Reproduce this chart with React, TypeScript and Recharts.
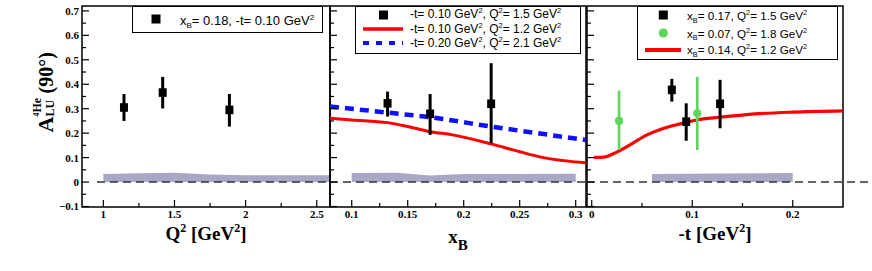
import React from 'react';
import {
  ComposedChart, Scatter, Line, Area, XAxis, YAxis, ReferenceLine, ReferenceArea,
  ErrorBar, Legend, Label,
} from 'recharts';

const W = 872;
const H = 271;

// ---------- shared y axis ----------
const yTicks = [-0.1, -0.05, 0, 0.05, 0.1, 0.15, 0.2, 0.25, 0.3, 0.35, 0.4, 0.45, 0.5, 0.55, 0.6, 0.65, 0.7];
const yMajorTicks = [-0.1, 0, 0.1, 0.2, 0.3, 0.4, 0.5, 0.6, 0.7];
const yTickLabels = ['\u22120.1', '0', '0.1', '0.2', '0.3', '0.4', '0.5', '0.6', '0.7'];
const yDomain: [number, number] = [-0.102, 0.72];

// ---------- panel 1 : Q^2 ----------
const q2Ticks = [1, 1.25, 1.5, 1.75, 2, 2.25, 2.5];
const q2MajorTicks = [1, 1.5, 2, 2.5];
const q2TickLabels = ['1', '1.5', '2', '2.5'];
const q2Domain: [number, number] = [0.85, 2.593];
const q2Values = [1.145, 1.417, 1.886];
const q2Asym = [0.305, 0.366, 0.295];
const q2ErrLow = [0.055, 0.065, 0.068];
const q2ErrHigh = [0.055, 0.064, 0.065];
const q2BandX = [1.0, 1.25, 1.5, 1.75, 2.0, 2.593];
const q2BandTop = [0.033, 0.036, 0.038, 0.031, 0.028, 0.028];
const q2ZeroFrom = 0.955;

// ---------- panel 2 : xB ----------
const xbTicks = [0.1, 0.125, 0.15, 0.175, 0.2, 0.225, 0.25, 0.275, 0.3];
const xbMajorTicks = [0.1, 0.15, 0.2, 0.25, 0.3];
const xbTickLabels = ['0.1', '0.15', '0.2', '0.25', '0.3'];
const xbDomain: [number, number] = [0.0806, 0.3092];
const xbValues = [0.132, 0.17, 0.2245];
const xbAsym = [0.322, 0.279, 0.32];
const xbErrLow = [0.054, 0.086, 0.161];
const xbErrHigh = [0.048, 0.081, 0.166];
const xbRedX = [0.0806, 0.1, 0.132, 0.15, 0.17, 0.19, 0.2245, 0.25, 0.27, 0.3092];
const xbRedY = [0.261, 0.254, 0.243, 0.227, 0.206, 0.193, 0.156, 0.124, 0.101, 0.079];
const xbBlueX = [0.0806, 0.132, 0.17, 0.2245, 0.3092];
const xbBlueY = [0.309, 0.284, 0.265, 0.227, 0.172];
const xbBandX = [0.1, 0.14, 0.17, 0.2, 0.3];
const xbBandTop = [0.037, 0.038, 0.027, 0.033, 0.034];

// ---------- panel 3 : -t ----------
const tTicks = [0, 0.05, 0.1, 0.15, 0.2];
const tMajorTicks = [0, 0.1, 0.2];
const tTickLabels = ['0', '0.1', '0.2'];
const tDomain: [number, number] = [-0.0047, 0.25];
const tBlackValues = [0.0797, 0.094, 0.1277];
const tBlackAsym = [0.377, 0.247, 0.32];
const tBlackErrLow = [0.048, 0.078, 0.1];
const tBlackErrHigh = [0.045, 0.075, 0.098];
const tGreenValues = [0.0272, 0.105];
const tGreenAsym = [0.25, 0.281];
const tGreenErrLow = [0.119, 0.15];
const tGreenErrHigh = [0.124, 0.149];
const tRedX = [0.0023, 0.012, 0.021, 0.038, 0.055, 0.071, 0.088, 0.1045, 0.1277, 0.154, 0.2, 0.25];
const tRedY = [0.101, 0.102, 0.115, 0.152, 0.193, 0.219, 0.238, 0.254, 0.265, 0.276, 0.286, 0.291];
const tBandX = [0.06, 0.13, 0.2];
const tBandTop = [0.033, 0.035, 0.037];
const tZeroTo = 0.277;

// ---------- build series ----------
const points = (xs: number[], ys: number[], lo: number[], hi: number[]) =>
  xs.map((x, i) => ({ x, y: ys[i], err: [lo[i], hi[i]] }));
const curve = (xs: number[], ys: number[]) => xs.map((x, i) => ({ x, y: ys[i] }));
const band = (xs: number[], tops: number[]) => xs.map((x, i) => ({ x, band: tops[i] }));

const q2Points = points(q2Values, q2Asym, q2ErrLow, q2ErrHigh);
const q2Band = band(q2BandX, q2BandTop);
const xbPoints = points(xbValues, xbAsym, xbErrLow, xbErrHigh);
const xbRed = curve(xbRedX, xbRedY);
const xbBlue = curve(xbBlueX, xbBlueY);
const xbBand = band(xbBandX, xbBandTop);
const tBlack = points(tBlackValues, tBlackAsym, tBlackErrLow, tBlackErrHigh);
const tGreen = points(tGreenValues, tGreenAsym, tGreenErrLow, tGreenErrHigh);
const tRed = curve(tRedX, tRedY);
const tBand = band(tBandX, tBandTop);

// ---------- styles ----------
const SERIF = 'Liberation Serif';
const sansFont = '"Liberation Sans", Arial, Helvetica, sans-serif';
const RED = '#ff0000';
const BLUE = '#1010ff';
const GREEN = '#5cd65c';
const BAND = '#a9a7c6';
const YW = 40;
const XH = 30;
const TM = 3;
const PLOT_TOP = 6;
const PLOT_BOTTOM = 207;

const findMajor = (majors: number[], v: number) => majors.findIndex((m) => Math.abs(m - v) < 1e-9);

const SerifText = ({ size, children, ...rest }: any) => (
  <text fontFamily={SERIF} fontWeight="bold" fontSize={size} fill="#000" stroke="none" {...rest}>
    {children}
  </text>
);

const makeYTick = (show: boolean) => (p: any) => {
  const { x, y, payload } = p;
  const idx = findMajor(yMajorTicks, payload.value);
  const ax = x + TM;
  const len = idx >= 0 ? 7 : 4;
  return (
    <g>
      <line x1={ax} x2={ax + len} y1={y} y2={y} stroke="#000" strokeWidth={1.2} />
      {show && idx >= 0 && (
        <SerifText size={11} x={x} y={y} dy="0.36em" textAnchor="end">{yTickLabels[idx]}</SerifText>
      )}
    </g>
  );
};

const makeXTick = (majors: number[], labels: string[]) => (p: any) => {
  const { x, y, payload } = p;
  const idx = findMajor(majors, payload.value);
  const ay = y - TM;
  const len = idx >= 0 ? 7 : 4;
  return (
    <g>
      <line x1={x} x2={x} y1={ay} y2={ay - len} stroke="#000" strokeWidth={1.2} />
      {idx >= 0 && (
        <SerifText size={11} x={x} y={ay + 10.5} textAnchor="middle">{labels[idx]}</SerifText>
      )}
    </g>
  );
};

const SquareShape = (props: any) => {
  const { cx, cy } = props;
  return <rect x={cx - 4} y={cy - 4.3} width={8} height={8.6} fill="#000" />;
};
const CircleShape = (props: any) => {
  const { cx, cy } = props;
  return <circle cx={cx} cy={cy} r={4.1} fill={GREEN} />;
};

// ---------- titles ----------
const Q2Title = (props: any) => {
  const { x, y, width } = props.viewBox;
  return (
    <SerifText size={19} x={x + width / 2} y={y + 33} textAnchor="middle">
      <tspan>Q</tspan>
      <tspan dy={-8} fontSize={12}>2</tspan>
      <tspan dy={8}> [GeV</tspan>
      <tspan dy={-8} fontSize={12}>2</tspan>
      <tspan dy={8}>]</tspan>
    </SerifText>
  );
};
const XbTitle = (props: any) => {
  const { x, y, width } = props.viewBox;
  return (
    <SerifText size={19} x={x + width / 2} y={y + 36} textAnchor="middle">
      <tspan>x</tspan>
      <tspan dy={7} fontSize={15}>B</tspan>
    </SerifText>
  );
};
const TTitle = (props: any) => {
  const { x, y, width } = props.viewBox;
  return (
    <SerifText size={19} x={x + width / 2} y={y + 33} textAnchor="middle">
      <tspan>-t [GeV</tspan>
      <tspan dy={-8} fontSize={12}>2</tspan>
      <tspan dy={8}>]</tspan>
    </SerifText>
  );
};
const YTitle = (props: any) => {
  const { x, y, height } = props.viewBox;
  const gx = x + 11;
  const gy = y + height / 2 + 26;
  return (
    <g transform={`translate(${gx},${gy}) rotate(-90)`}>
      <SerifText size={22} x={0} y={0}>A</SerifText>
      <SerifText size={12} x={16} y={-12}>
        <tspan fontSize={8} dy={-2}>4</tspan>
        <tspan dy={2}>He</tspan>
      </SerifText>
      <SerifText size={12} x={16} y={1}>LU</SerifText>
      <SerifText size={20} x={39} y={0}>(90°)</SerifText>
    </g>
  );
};

// ---------- legends ----------
const Sup = ({ fs, children }: any) => (
  <span style={{ fontSize: fs * 0.62, position: 'relative', top: -fs * 0.42 }}>{children}</span>
);
const Sub = ({ fs, children }: any) => (
  <span style={{ fontSize: fs * 0.62, position: 'relative', top: fs * 0.22 }}>{children}</span>
);
const Row = ({ left, baseline, fs, children }: any) => (
  <div
    style={{
      position: 'absolute', left, top: baseline - 0.8465 * fs, lineHeight: `${fs}px`, fontSize: fs,
      fontFamily: sansFont, whiteSpace: 'nowrap', color: '#000',
    }}
  >
    {children}
  </div>
);
const Sym = ({ left, cy, w, children }: any) => (
  <svg style={{ position: 'absolute', left, top: cy - 6 }} width={w} height={12}>{children}</svg>
);
const boxStyle: React.CSSProperties = {
  position: 'relative', width: '100%', height: '100%', border: '1px solid #000',
  background: '#fff', boxSizing: 'border-box',
};

const LeftLegend = () => {
  const fs = 13;
  const L = 131.7, T = 6;
  return (
    <div style={boxStyle}>
      <Sym left={155.8 - L - 1 - 5} cy={18.8 - T - 1} w={10}>
        <rect x={0.5} y={1.5} width={9} height={9} fill="#000" />
      </Sym>
      <Row left={180 - L - 1} baseline={25.5 - T - 1} fs={fs}>
        x<Sub fs={fs}>B</Sub>= 0.18, -t= 0.10 GeV<Sup fs={fs}>2</Sup>
      </Row>
    </div>
  );
};

const MidLegend = () => {
  const fs = 12;
  const L = 355, T = 6;
  const sx = 363 - L - 1;
  const tx = 410 - L - 1;
  return (
    <div style={boxStyle}>
      <Sym left={sx} cy={14.5 - T - 1} w={40}>
        <rect x={16} y={1.5} width={9} height={9} fill="#000" />
      </Sym>
      <Row left={tx} baseline={18.4 - T - 1} fs={fs}>
        -t= 0.10 GeV<Sup fs={fs}>2</Sup>, Q<Sup fs={fs}>2</Sup>= 1.5 GeV<Sup fs={fs}>2</Sup>
      </Row>
      <Sym left={sx} cy={29.3 - T - 1} w={40}>
        <line x1={0} x2={40} y1={6} y2={6} stroke={RED} strokeWidth={3.3} />
      </Sym>
      <Row left={tx} baseline={33.5 - T - 1} fs={fs}>
        -t= 0.10 GeV<Sup fs={fs}>2</Sup>, Q<Sup fs={fs}>2</Sup>= 1.2 GeV<Sup fs={fs}>2</Sup>
      </Row>
      <Sym left={sx} cy={43.3 - T - 1} w={40}>
        <line x1={0} x2={40} y1={6} y2={6} stroke={BLUE} strokeWidth={4} strokeDasharray="6 7" />
      </Sym>
      <Row left={tx} baseline={47.6 - T - 1} fs={fs}>
        -t= 0.20 GeV<Sup fs={fs}>2</Sup>, Q<Sup fs={fs}>2</Sup>= 2.1 GeV<Sup fs={fs}>2</Sup>
      </Row>
    </div>
  );
};

const RightLegend = () => {
  const fs = 11.7;
  const L = 637.3, T = 6;
  const sx = 645 - L - 1;
  const tx = 687 - L - 1;
  return (
    <div style={boxStyle}>
      <Sym left={sx} cy={15 - T - 1} w={36}>
        <rect x={13.8} y={1.5} width={9} height={9} fill="#000" />
      </Sym>
      <Row left={tx} baseline={20 - T - 1} fs={fs}>
        x<Sub fs={fs}>B</Sub>= 0.17, Q<Sup fs={fs}>2</Sup>= 1.5 GeV<Sup fs={fs}>2</Sup>
      </Row>
      <Sym left={sx} cy={33.3 - T - 1} w={36}>
        <circle cx={18.3} cy={6} r={4.6} fill={GREEN} />
      </Sym>
      <Row left={tx} baseline={37.7 - T - 1} fs={fs}>
        x<Sub fs={fs}>B</Sub>= 0.07, Q<Sup fs={fs}>2</Sup>= 1.8 GeV<Sup fs={fs}>2</Sup>
      </Row>
      <Sym left={sx} cy={50 - T - 1} w={36}>
        <line x1={0} x2={36} y1={6} y2={6} stroke={RED} strokeWidth={3.8} />
      </Sym>
      <Row left={tx} baseline={54.3 - T - 1} fs={fs}>
        x<Sub fs={fs}>B</Sub>= 0.14, Q<Sup fs={fs}>2</Sup>= 1.2 GeV<Sup fs={fs}>2</Sup>
      </Row>
    </div>
  );
};

const legendWrapper = (left: number, top: number, width: number, height: number): React.CSSProperties => ({
  left, top, width, height, margin: 0, padding: 0,
});

const margins = (left: number, right: number) => ({
  top: PLOT_TOP,
  bottom: H - PLOT_BOTTOM - XH,
  left: left - YW,
  right: W - right,
});

export default function App() {
  const zeroStyle = { stroke: '#333', strokeWidth: 1.5, strokeDasharray: '8 5' };
  return (
    <div style={{ position: 'absolute', left: 0, top: 0, width: W, height: H, background: '#fff' }}>
      {/* Panel 1 */}
      <div style={{ position: 'absolute', left: 0, top: 0 }}>
        <ComposedChart width={W} height={H} margin={margins(82, 330)}>
          <XAxis dataKey="x" type="number" domain={q2Domain} allowDataOverflow ticks={q2Ticks} interval={0}
            tickSize={0} tickMargin={TM} axisLine={false} tickLine={false} height={XH}
            tick={makeXTick(q2MajorTicks, q2TickLabels)}>
            <Label content={Q2Title} />
          </XAxis>
          <YAxis type="number" domain={yDomain} allowDataOverflow ticks={yTicks} interval={0}
            tickSize={0} tickMargin={TM} axisLine={false} tickLine={false} width={YW} tick={makeYTick(true)}>
            <Label content={YTitle} />
          </YAxis>
          <Area data={q2Band} dataKey="band" type="linear" baseValue={0} fill={BAND} fillOpacity={1} stroke="none" isAnimationActive={false} />
          <ReferenceLine segment={[{ x: q2ZeroFrom, y: 0 }, { x: q2Domain[1], y: 0 }]} {...zeroStyle} ifOverflow="visible" />
          <Scatter data={q2Points} dataKey="y" shape={SquareShape} isAnimationActive={false}>
            <ErrorBar dataKey="err" direction="y" width={0} strokeWidth={3} stroke="#000" />
          </Scatter>
          <ReferenceArea x1={q2Domain[0]} x2={q2Domain[1]} y1={yDomain[0]} y2={yDomain[1]} fill="none" stroke="#000" strokeWidth={1.5} fillOpacity={0} strokeOpacity={1} ifOverflow="visible" />
          <Legend verticalAlign="middle" align="center" layout="horizontal" content={() => <LeftLegend />}
            wrapperStyle={legendWrapper(131.7, 6, 191.6, 26.5)} />
        </ComposedChart>
      </div>

      {/* Panel 2 */}
      <div style={{ position: 'absolute', left: 0, top: 0 }}>
        <ComposedChart width={W} height={H} margin={margins(330, 586)}>
          <XAxis dataKey="x" type="number" domain={xbDomain} allowDataOverflow ticks={xbTicks} interval={0}
            tickSize={0} tickMargin={TM} axisLine={false} tickLine={false} height={XH}
            tick={makeXTick(xbMajorTicks, xbTickLabels)}>
            <Label content={XbTitle} />
          </XAxis>
          <YAxis type="number" domain={yDomain} allowDataOverflow ticks={yTicks} interval={0}
            tickSize={0} tickMargin={TM} axisLine={false} tickLine={false} width={YW} tick={makeYTick(false)} />
          <Area data={xbBand} dataKey="band" type="linear" baseValue={0} fill={BAND} fillOpacity={1} stroke="none" isAnimationActive={false} />
          <ReferenceLine y={0} {...zeroStyle} />
          <Line data={xbRed} dataKey="y" type="monotone" stroke={RED} strokeWidth={3} dot={false} isAnimationActive={false} />
          <Line data={xbBlue} dataKey="y" type="monotone" stroke={BLUE} strokeWidth={4.5} strokeDasharray="9 6" dot={false} isAnimationActive={false} />
          <Scatter data={xbPoints} dataKey="y" shape={SquareShape} isAnimationActive={false}>
            <ErrorBar dataKey="err" direction="y" width={0} strokeWidth={3} stroke="#000" />
          </Scatter>
          <ReferenceArea x1={xbDomain[0]} x2={xbDomain[1]} y1={yDomain[0]} y2={yDomain[1]} fill="none" stroke="#000" strokeWidth={1.5} fillOpacity={0} ifOverflow="visible" />
          <Legend verticalAlign="middle" align="center" layout="horizontal" content={() => <MidLegend />}
            wrapperStyle={legendWrapper(355, 6, 226, 47.5)} />
        </ComposedChart>
      </div>

      {/* Panel 3 */}
      <div style={{ position: 'absolute', left: 0, top: 0 }}>
        <ComposedChart width={W} height={H} margin={margins(587, 843)}>
          <XAxis dataKey="x" type="number" domain={tDomain} allowDataOverflow ticks={tTicks} interval={0}
            tickSize={0} tickMargin={TM} axisLine={false} tickLine={false} height={XH}
            tick={makeXTick(tMajorTicks, tTickLabels)}>
            <Label content={TTitle} />
          </XAxis>
          <YAxis type="number" domain={yDomain} allowDataOverflow ticks={yTicks} interval={0}
            tickSize={0} tickMargin={TM} axisLine={false} tickLine={false} width={YW} tick={makeYTick(false)} />
          <Area data={tBand} dataKey="band" type="linear" baseValue={0} fill={BAND} fillOpacity={1} stroke="none" isAnimationActive={false} />
          <ReferenceLine segment={[{ x: tDomain[0], y: 0 }, { x: tZeroTo, y: 0 }]} {...zeroStyle} ifOverflow="visible" />
          <Line data={tRed} dataKey="y" type="monotone" stroke={RED} strokeWidth={3.2} dot={false} isAnimationActive={false} />
          <Scatter data={tGreen} dataKey="y" shape={CircleShape} isAnimationActive={false}>
            <ErrorBar dataKey="err" direction="y" width={0} strokeWidth={2.6} stroke={GREEN} />
          </Scatter>
          <Scatter data={tBlack} dataKey="y" shape={SquareShape} isAnimationActive={false}>
            <ErrorBar dataKey="err" direction="y" width={0} strokeWidth={3} stroke="#000" />
          </Scatter>
          <ReferenceArea x1={tDomain[0]} x2={tDomain[1]} y1={yDomain[0]} y2={yDomain[1]} fill="none" stroke="#000" strokeWidth={1.5} fillOpacity={0} ifOverflow="visible" />
          <Legend verticalAlign="middle" align="center" layout="horizontal" content={() => <RightLegend />}
            wrapperStyle={legendWrapper(637.3, 6, 201, 53.5)} />
        </ComposedChart>
      </div>
    </div>
  );
}
